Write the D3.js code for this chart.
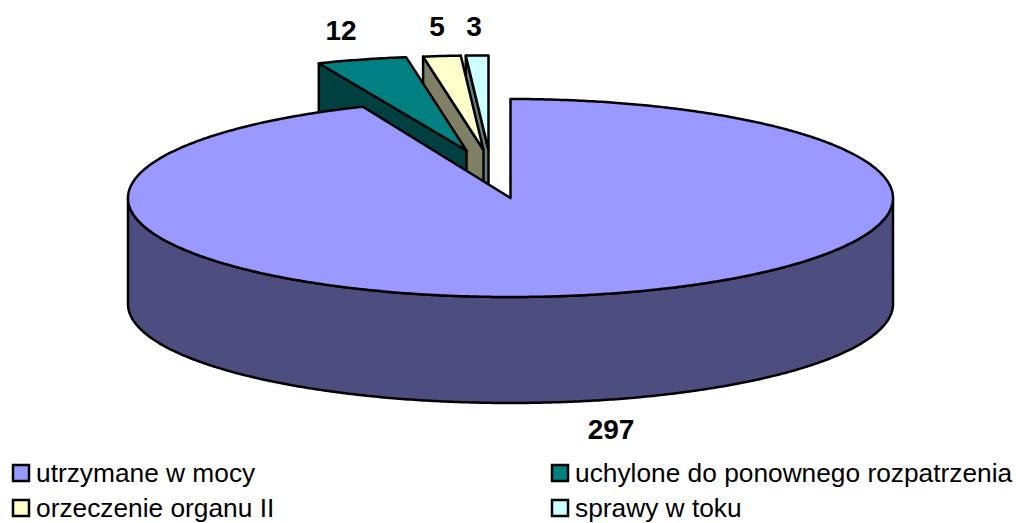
<!DOCTYPE html>
<html>
<head>
<meta charset="utf-8">
<script src="https://cdn.jsdelivr.net/npm/d3@7"></script>
<style>
  html, body { margin: 0; padding: 0; background: #fff; }
  svg { display: block; }
  text { font-family: "Liberation Sans", Arial, sans-serif; fill: #000; }
</style>
</head>
<body>
<div id="my_dataviz"></div>
<script>
// Data
var categories = ["utrzymane w mocy", "uchylone do ponownego rozpatrzenia", "orzeczenie organu II", "sprawy w toku"];
var values = [297, 12, 5, 3];

// Colours of the top faces and of the darker sides
var topColors = ["#9999ff", "#008080", "#ffffcc", "#ccffff"];
var sideColors = ["#4d4d80", "#004040", "#808066", "#668080"];

// How far each slice is pulled out of the pie, in pixels
var explodeX = [0, -44, -27, -22];
var explodeY = [0, -47.5, -48, -48];
// Pulled out slices sit further back, so they look a little flatter
var flatten = [1, 0.955, 0.955, 0.955];

// Where the value labels sit
var labelX = [611, 341, 437, 474];
var labelY = [439, 40, 36, 36];

var width = 1016,
    height = 523,
    depth = 106;

// The pie is a unit circle squashed into an ellipse
var x = d3.scaleLinear().domain([-1, 1]).range([128, 893]);
var y = d3.scaleLinear().domain([-1, 1]).range([99, 297]);

var svg = d3.select("#my_dataviz")
    .append("svg")
    .attr("width", width)
    .attr("height", height);

var line = d3.line();

// Point on the rim of slice i at a given angle (clockwise from 12 o'clock)
function rim(angle, i, drop) {
    return [x(Math.sin(angle)) + explodeX[i], y(-Math.cos(angle) * flatten[i]) + explodeY[i] + (drop || 0)];
}

function centre(i, drop) {
    return [x(0) + explodeX[i], y(0) + explodeY[i] + (drop || 0)];
}

function rimPoints(a0, a1, i, drop) {
    var n = Math.max(2, Math.ceil((a1 - a0) * 120));
    return d3.range(n + 1).map(function(k) {
        return rim(a0 + (a1 - a0) * k / n, i, drop);
    });
}

function addShape(points, fill) {
    svg.append("path")
        .attr("d", line(points) + "Z")
        .attr("fill", fill)
        .attr("stroke", "#000")
        .attr("stroke-width", 2.5)
        .attr("stroke-linejoin", "round");
}

var slices = d3.pie().sort(null).value(function(d) { return d; })(values);

// Back to front: smallest slice first, big slice last
slices.slice(1).reverse().forEach(function(d) {
    var i = d.index;
    // only the left cut face is visible on the pulled out slices
    addShape([centre(i), rim(d.startAngle, i), rim(d.startAngle, i, depth), centre(i, depth)], sideColors[i]);
    addShape([centre(i)].concat(rimPoints(d.startAngle, d.endAngle, i)), topColors[i]);
});

// Big slice: front wall, then the top
var main = slices[0];
var front = rimPoints(Math.PI / 2, 3 * Math.PI / 2, 0);
var frontLow = rimPoints(Math.PI / 2, 3 * Math.PI / 2, 0, depth).reverse();
addShape(front.concat(frontLow), sideColors[0]);
addShape([centre(0)].concat(rimPoints(main.startAngle, main.endAngle, 0)), topColors[0]);

// Value labels
svg.selectAll("text.value")
    .data(values)
    .enter()
    .append("text")
    .attr("class", "value")
    .attr("x", function(d, i) { return labelX[i]; })
    .attr("y", function(d, i) { return labelY[i]; })
    .attr("text-anchor", "middle")
    .style("font-size", "28px")
    .style("font-weight", "bold")
    .text(function(d) { return d; });

// Legend, two columns and two rows
var legendX = d3.scaleOrdinal().domain([0, 1]).range([13, 552]);
var legendY = d3.scaleOrdinal().domain([0, 1]).range([465, 500]);

var legend = svg.selectAll("g.legend")
    .data(categories)
    .enter()
    .append("g")
    .attr("class", "legend")
    .attr("transform", function(d, i) {
        return "translate(" + legendX(i % 2) + "," + legendY(Math.floor(i / 2)) + ")";
    });

legend.append("rect")
    .attr("width", 16)
    .attr("height", 16)
    .attr("fill", function(d, i) { return topColors[i]; })
    .attr("stroke", "#000")
    .attr("stroke-width", 2.5);

legend.append("text")
    .attr("x", 23)
    .attr("y", 17)
    .style("font-size", "26.3px")
    .text(function(d) { return d; });
</script>
</body>
</html>
